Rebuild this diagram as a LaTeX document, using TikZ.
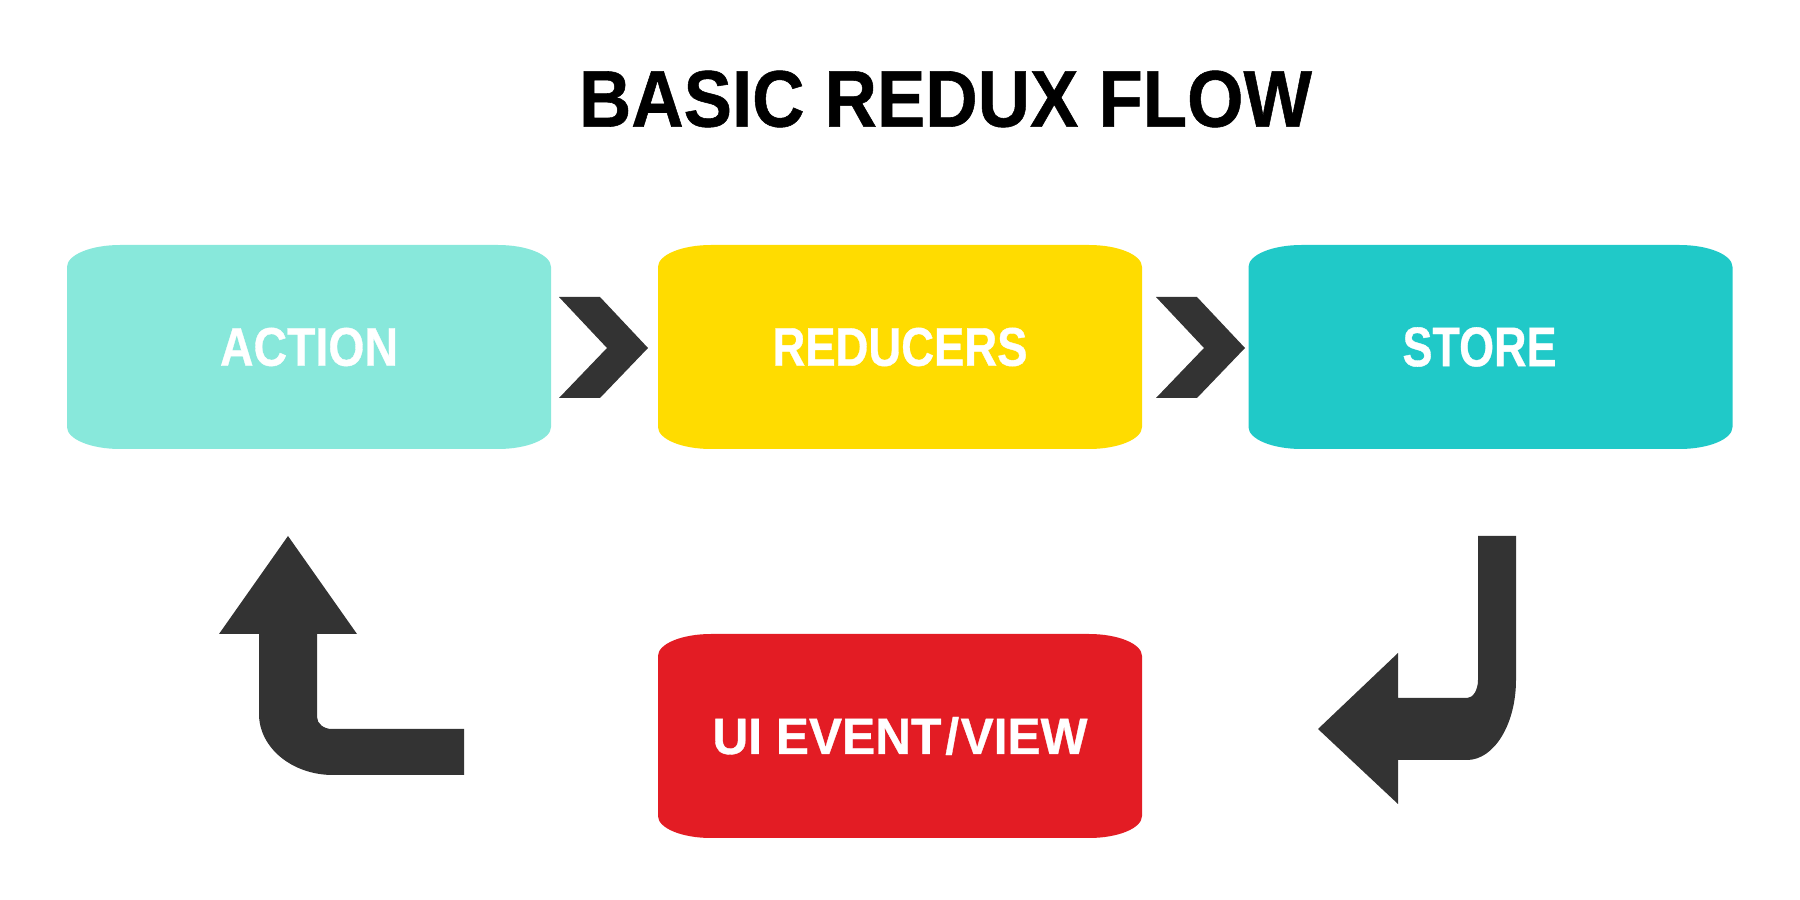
\documentclass[tikz,border=0pt]{standalone}
\usepackage{fontspec}
\setmainfont{Liberation Sans}
\newfontfamily\labelfont{Liberation Sans}[BoldFeatures={FakeBold=0.7}]
\usepackage{graphicx}
\definecolor{cAction}{HTML}{88E8DB}
\definecolor{cReducer}{HTML}{FFDC00}
\definecolor{cStore}{HTML}{20C9C8}
\definecolor{cView}{HTML}{E31C24}
\definecolor{cArrow}{HTML}{333333}
\newcommand{\fitlabel}[3]{\resizebox{#1}{#2}{\labelfont\bfseries #3}}
\begin{document}
\begin{tikzpicture}[
  flowbox/.style={minimum width=4.84cm, minimum height=2.04cm, inner sep=0pt, outer sep=0pt, text=white,
    path picture={\fill[#1]
      ([xshift=0.53cm]path picture bounding box.north west) --
      ([xshift=-0.53cm]path picture bounding box.north east)
        arc[start angle=90, end angle=0, x radius=0.53cm, y radius=0.22cm] --
      ([yshift=0.22cm]path picture bounding box.south east)
        arc[start angle=0, end angle=-90, x radius=0.53cm, y radius=0.22cm] --
      ([xshift=0.53cm]path picture bounding box.south west)
        arc[start angle=270, end angle=180, x radius=0.53cm, y radius=0.22cm] --
      ([yshift=-0.22cm]path picture bounding box.north west)
        arc[start angle=180, end angle=90, x radius=0.53cm, y radius=0.22cm] -- cycle;}},
  blockarrow/.style={fill=cArrow}
]
\useasboundingbox (0,0) rectangle (18,9);

\node (title) at (9.455,8.01) {\fitlabel{7.33cm}{0.56cm}{BASIC REDUX FLOW}};

\node[flowbox=cAction]  (action)   at (3.09,5.53)  {\fitlabel{1.78cm}{0.38cm}{ACTION}};
\node[flowbox=cReducer] (reducers) at (9.00,5.53)  {\fitlabel{2.55cm}{0.38cm}{REDUCERS}};
\node[flowbox=cStore]   (store)    at (14.905,5.53){\hspace*{-0.22cm}\fitlabel{1.54cm}{0.39cm}{STORE}};
\node[flowbox=cView]    (view)     at (9.00,1.64)  {\fitlabel{3.75cm}{0.37cm}{UI EVENT\kern0.08em/\kern0.03emVIEW}};

% chevrons between the top boxes
\fill[blockarrow] ([xshift=0.08cm,yshift=0.50cm]action.east) -- ++(0.41,0) -- ++(0.48,-0.51)
  -- ++(-0.48,-0.50) -- ++(-0.41,0) -- ++(0.48,0.50) -- cycle;
\fill[blockarrow] ([xshift=0.14cm,yshift=0.50cm]reducers.east) -- ++(0.41,0) -- ++(0.48,-0.51)
  -- ++(-0.48,-0.50) -- ++(-0.41,0) -- ++(0.48,0.50) -- cycle;

% store -> view
\coordinate (sv) at ([xshift=-0.125cm,yshift=-0.87cm]store.south);
\fill[blockarrow] (sv) -- ++(0,-1.44)
  arc[start angle=0, end angle=-90, x radius=0.11cm, y radius=0.18cm]
  -- ++(-0.69,0) -- ++(0,0.45) -- ++(-0.80,-0.76) -- ++(0.80,-0.75) -- ++(0,0.44) -- ++(0.69,0)
  arc[start angle=-90, end angle=0, x radius=0.49cm, y radius=0.80cm]
  |- (sv) -- cycle;

% view -> action
\coordinate (va) at ([xshift=-0.21cm,yshift=-0.87cm]action.south);
\fill[blockarrow] (va) -- ++(0.69,-0.98) -- ++(-0.40,0) -- ++(0,-0.83)
  arc[start angle=180, end angle=270, x radius=0.15cm, y radius=0.12cm]
  -- ++(1.32,0) -- ++(0,-0.46) -- ++(-1.31,0)
  arc[start angle=270, end angle=180, x radius=0.74cm, y radius=0.61cm]
  -- ++(0,0.80) -- ++(-0.40,0) -- cycle;
\end{tikzpicture}
\end{document}
